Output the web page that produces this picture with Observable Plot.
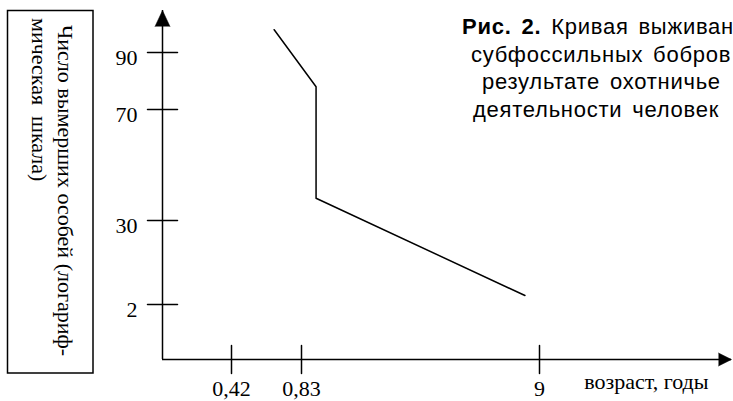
<!DOCTYPE html>
<html>
<head>
<meta charset="utf-8">
<script src="https://cdn.jsdelivr.net/npm/d3@7"></script>
<script src="https://cdn.jsdelivr.net/npm/@observablehq/plot@0.6"></script>
<style>
  html, body { margin: 0; padding: 0; background: #fff; overflow: hidden; }
  #chart svg { display: block; overflow: hidden; }
</style>
</head>
<body>
<div id="chart"></div>
<script>
// ---- data ----
const xTicks = [0.42, 0.83, 9];
const xTickLabels = ["0,42", "0,83", "9"];
const yTicks = [2, 30, 70, 90];
const yTickLabels = ["2", "30", "70", "90"];
const ageValues = [0.67, 1.33, 1.33, 8.5];
const deadValues = [98, 78, 38, 5];
const xAxisTitle = "возраст, годы";
const yAxisTitleLines = ["Число вымерших особей (логариф-", "мическая  шкала)"];
const captionBold = "Рис. 2.";
const captionLines = [" Кривая выживан", "субфоссильных бобров", "результате охотничье", "деятельности человек"];

// ---- build ----
const points = ageValues.map((a, i) => ({age: a, dead: deadValues[i]}));
const serif = "'Liberation Serif', 'Times New Roman', serif";
const sans = "'Liberation Sans', Arial, sans-serif";

const chart = Plot.plot({
  width: 733,
  height: 401,
  marginLeft: 162,
  marginRight: 2,
  marginTop: 10,
  marginBottom: 42,
  style: {background: "white", color: "black", fontFamily: serif},
  x: {type: "linear", domain: [0, ...xTicks], range: [162, 231, 301, 539], axis: null},
  y: {type: "linear", domain: [0, ...yTicks], range: [359, 304, 220, 109, 52], axis: null},
  marks: [
    // axis lines
    Plot.ruleX([0], {stroke: "black", strokeWidth: 1.5}),
    Plot.ruleY([0], {stroke: "black", strokeWidth: 1.5}),
    // arrowheads
    Plot.vector([0], {x: 0, frameAnchor: "top", anchor: "end", length: 16, r: 7.5, shape: "spike", fill: "black", stroke: "black", strokeWidth: 0.5}),
    Plot.vector([0], {y: 0, frameAnchor: "right", rotate: 90, anchor: "end", length: 13, r: 6.5, shape: "spike", fill: "black", stroke: "black", strokeWidth: 0.5}),
    // tick marks crossing the axes
    Plot.vector(yTicks, {x: 0, y: d => d, length: 30, rotate: 90, anchor: "middle", r: 0, stroke: "black", strokeWidth: 1.5}),
    Plot.vector(xTicks, {x: d => d, y: 0, length: 28, rotate: 0, anchor: "middle", r: 0, stroke: "black", strokeWidth: 1.5}),
    // tick labels
    Plot.text(yTicks, {x: 0, y: d => d, text: (d, i) => yTickLabels[i], textAnchor: "end", dx: -25, dy: 5, fontSize: 22, fontFamily: serif, fill: "black"}),
    Plot.text(xTicks, {x: d => d, y: 0, text: (d, i) => xTickLabels[i], dy: 29, fontSize: 22, fontFamily: serif, fill: "black"}),
    Plot.text([xAxisTitle], {frameAnchor: "bottom-right", text: d => d, textAnchor: "end", dx: -23, dy: 29, fontSize: 22, fontFamily: serif, fill: "black"}),
    // survival curve
    Plot.line(points, {x: "age", y: "dead", stroke: "black", strokeWidth: 1.5})
  ]
});

document.getElementById("chart").appendChild(chart);

// ---- y axis title box ----
const svg = d3.select(chart);
svg.append("rect")
  .attr("x", 7.5).attr("y", 10.5).attr("width", 85.5).attr("height", 362.5)
  .attr("fill", "none").attr("stroke", "black").attr("stroke-width", 1.5);
const colBaselines = [58, 32];
const colStarts = [25, 18];
yAxisTitleLines.forEach((t, i) => {
  svg.append("text")
    .attr("transform", `translate(${colBaselines[i]},${colStarts[i]}) rotate(90)`)
    .attr("text-anchor", "start")
    .attr("font-family", serif).attr("font-size", 22).attr("fill", "black")
    .style("white-space", "pre")
    .text(t);
});

// ---- caption ----
const capX = [462, 471, 482, 473];
const capY = [33.5, 61.5, 89, 117];
captionLines.forEach((t, i) => {
  const tx = svg.append("text")
    .attr("x", capX[i]).attr("y", capY[i])
    .attr("text-anchor", "start")
    .attr("font-family", sans).attr("font-size", 22).attr("fill", "black")
    .attr("letter-spacing", 0.75).attr("word-spacing", 3)
    .style("white-space", "pre");
  if (i === 0) tx.append("tspan").attr("font-weight", "bold").text(captionBold);
  tx.append("tspan").text(t);
});
</script>
</body>
</html>
